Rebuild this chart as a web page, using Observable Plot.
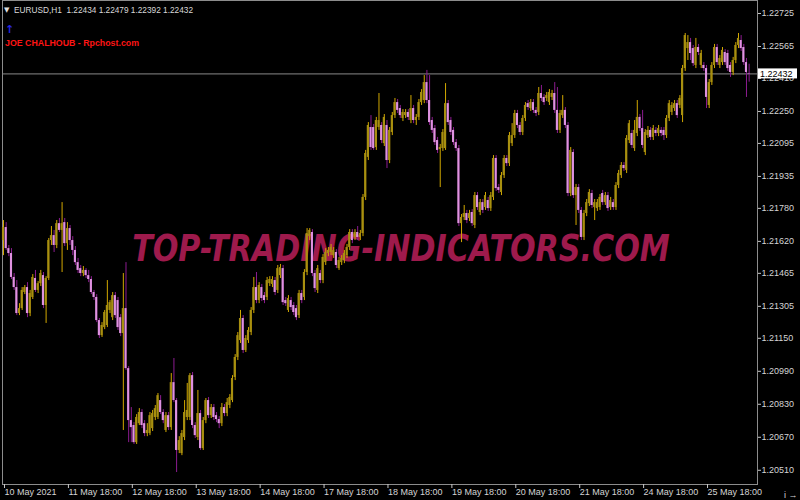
<!DOCTYPE html>
<html><head><meta charset="utf-8">
<script src="https://cdn.jsdelivr.net/npm/d3@7"></script>
<script src="https://cdn.jsdelivr.net/npm/@observablehq/plot@0.6"></script>
<style>html,body{margin:0;padding:0;background:#000;} #chart{width:800px;height:500px;overflow:hidden;}</style>
</head><body><div id="chart"></div>
<script>
const symbol = "EURUSD,H1";
const lastQuote = [1.22434, 1.22479, 1.22392, 1.22432];
const bidPrice = 1.22432;
const signature = "JOE CHALHOUB - Rpchost.com";
const watermark = "TOP-TRADING-INDICATORS.COM";
// hourly candles [open, high, low, close]
const candles = [
[1.21624,1.21721,1.21551,1.21687],[1.21687,1.21711,1.21576,1.21585],[1.21585,1.21600,1.21546,1.21561],[1.21561,1.21585,1.21435,1.21445],[1.21445,1.21464,1.21382,1.21396],[1.21396,1.21430,1.21260,1.21270],
[1.21270,1.21318,1.21260,1.21294],[1.21294,1.21396,1.21285,1.21382],[1.21372,1.21406,1.21362,1.21396],[1.21396,1.21420,1.21250,1.21270],[1.21270,1.21382,1.21255,1.21367],[1.21348,1.21459,1.21338,1.21445],
[1.21440,1.21479,1.21372,1.21382],[1.21382,1.21425,1.21367,1.21415],[1.21415,1.21479,1.21401,1.21464],[1.21454,1.21469,1.21294,1.21309],[1.21309,1.21449,1.21222,1.21440],[1.21440,1.21634,1.21430,1.21624],
[1.21624,1.21692,1.21600,1.21648],[1.21648,1.21673,1.21566,1.21600],[1.21600,1.21721,1.21585,1.21706],[1.21706,1.21731,1.21663,1.21673],[1.21673,1.21808,1.21469,1.21706],[1.21711,1.21731,1.21595,1.21609],
[1.21609,1.21711,1.21576,1.21682],[1.21682,1.21697,1.21600,1.21624],[1.21624,1.21643,1.21551,1.21576],[1.21576,1.21595,1.21503,1.21517],[1.21517,1.21537,1.21464,1.21479],[1.21488,1.21503,1.21449,1.21464],
[1.21464,1.21498,1.21449,1.21479],[1.21479,1.21488,1.21440,1.21454],[1.21454,1.21479,1.21420,1.21435],[1.21435,1.21449,1.21362,1.21372],[1.21372,1.21382,1.21333,1.21348],[1.21348,1.21362,1.21226,1.21236],
[1.21236,1.21246,1.21149,1.21163],[1.21163,1.21226,1.21154,1.21212],[1.21202,1.21285,1.21192,1.21275],[1.21212,1.21430,1.21202,1.21309],[1.21285,1.21333,1.21270,1.21323],[1.21250,1.21372,1.21236,1.21357],
[1.21357,1.21372,1.21246,1.21260],[1.21333,1.21348,1.21188,1.21202],[1.21250,1.21265,1.21158,1.21173],[1.21173,1.21464,1.20703,1.21294],[1.21294,1.21517,1.20994,1.21003],[1.21003,1.21013,1.20644,1.20751],
[1.20751,1.20814,1.20644,1.20717],[1.20727,1.20741,1.20635,1.20644],[1.20644,1.20780,1.20635,1.20766],[1.20736,1.20809,1.20727,1.20790],[1.20790,1.20804,1.20712,1.20727],[1.20736,1.20751,1.20673,1.20688],
[1.20688,1.20736,1.20673,1.20703],[1.20688,1.20790,1.20678,1.20775],[1.20712,1.20800,1.20698,1.20785],[1.20766,1.20824,1.20751,1.20809],[1.20766,1.20882,1.20756,1.20872],[1.20848,1.20872,1.20780,1.20790],
[1.20790,1.20804,1.20736,1.20751],[1.20703,1.20790,1.20693,1.20775],[1.20775,1.20790,1.20703,1.20717],[1.20717,1.20979,1.20703,1.20935],[1.20935,1.21052,1.20838,1.20848],[1.20848,1.20858,1.20499,1.20606],
[1.20606,1.20673,1.20591,1.20654],[1.20591,1.20703,1.20581,1.20688],[1.20669,1.20848,1.20654,1.20790],[1.20766,1.20931,1.20751,1.20800],[1.20766,1.20979,1.20751,1.20969],[1.20969,1.20984,1.20712,1.20727],
[1.20727,1.20741,1.20664,1.20678],[1.20669,1.20897,1.20654,1.20785],[1.20785,1.20800,1.20606,1.20615],[1.20615,1.20766,1.20606,1.20751],[1.20751,1.20858,1.20736,1.20848],[1.20848,1.20863,1.20761,1.20775],
[1.20775,1.20829,1.20761,1.20814],[1.20814,1.20829,1.20751,1.20766],[1.20775,1.20790,1.20741,1.20756],[1.20756,1.20770,1.20712,1.20736],[1.20736,1.20834,1.20722,1.20814],[1.20814,1.20829,1.20770,1.20785],
[1.20785,1.20858,1.20770,1.20838],[1.20824,1.20877,1.20809,1.20863],[1.20848,1.20969,1.20838,1.20955],[1.20960,1.21071,1.20945,1.21057],[1.21057,1.21178,1.21042,1.21163],[1.21139,1.21285,1.21125,1.21246],
[1.21246,1.21260,1.21076,1.21091],[1.21091,1.21163,1.21081,1.21149],[1.21139,1.21202,1.21125,1.21188],[1.21178,1.21299,1.21163,1.21285],[1.21285,1.21445,1.21270,1.21396],[1.21396,1.21469,1.21318,1.21333],
[1.21333,1.21420,1.21318,1.21406],[1.21396,1.21411,1.21328,1.21343],[1.21357,1.21372,1.21318,1.21333],[1.21348,1.21445,1.21333,1.21430],[1.21415,1.21449,1.21401,1.21435],[1.21411,1.21449,1.21396,1.21435],
[1.21430,1.21445,1.21357,1.21372],[1.21382,1.21503,1.21367,1.21488],[1.21454,1.21508,1.21440,1.21493],[1.21488,1.21503,1.21309,1.21323],[1.21333,1.21348,1.21304,1.21318],[1.21285,1.21357,1.21275,1.21343],
[1.21333,1.21348,1.21285,1.21299],[1.21309,1.21323,1.21260,1.21275],[1.21294,1.21309,1.21236,1.21250],[1.21260,1.21382,1.21246,1.21367],[1.21367,1.21382,1.21318,1.21333],[1.21348,1.21483,1.21333,1.21469],
[1.21469,1.21682,1.21454,1.21658],[1.21643,1.21682,1.21624,1.21673],[1.21663,1.21677,1.21449,1.21464],[1.21464,1.21479,1.21372,1.21391],[1.21382,1.21503,1.21367,1.21488],[1.21464,1.21479,1.21415,1.21430],
[1.21430,1.21556,1.21415,1.21542],[1.21517,1.21585,1.21503,1.21566],[1.21561,1.21590,1.21546,1.21576],[1.21566,1.21605,1.21551,1.21590],[1.21551,1.21590,1.21537,1.21576],[1.21566,1.21580,1.21488,1.21503],
[1.21488,1.21542,1.21479,1.21527],[1.21517,1.21551,1.21503,1.21537],[1.21527,1.21576,1.21512,1.21561],[1.21551,1.21605,1.21537,1.21590],[1.21590,1.21677,1.21576,1.21663],[1.21663,1.21677,1.21609,1.21624],
[1.21639,1.21677,1.21624,1.21663],[1.21663,1.21692,1.21624,1.21639],[1.21639,1.21673,1.21624,1.21658],[1.21658,1.21847,1.21643,1.21833],[1.21833,1.22061,1.21818,1.22046],[1.22027,1.22196,1.22012,1.22182],
[1.22172,1.22230,1.22061,1.22075],[1.22172,1.22187,1.22061,1.22070],[1.22075,1.22221,1.22061,1.22206],[1.22172,1.22337,1.22158,1.22206],[1.22182,1.22196,1.22094,1.22109],[1.22094,1.22235,1.22080,1.22221],
[1.22182,1.22206,1.21973,1.22012],[1.22012,1.22172,1.21997,1.22158],[1.22148,1.22245,1.22133,1.22230],[1.22230,1.22313,1.22216,1.22293],[1.22293,1.22308,1.22240,1.22255],[1.22264,1.22279,1.22216,1.22230],
[1.22216,1.22259,1.22201,1.22245],[1.22230,1.22259,1.22216,1.22245],[1.22245,1.22259,1.22206,1.22221],[1.22206,1.22327,1.22191,1.22264],[1.22264,1.22279,1.22191,1.22206],[1.22206,1.22235,1.22182,1.22221],
[1.22221,1.22308,1.22206,1.22293],[1.22293,1.22356,1.22279,1.22342],[1.22303,1.22424,1.22288,1.22390],[1.22390,1.22449,1.22288,1.22303],[1.22303,1.22424,1.22182,1.22196],[1.22206,1.22221,1.22143,1.22158],
[1.22167,1.22182,1.22085,1.22099],[1.22109,1.22124,1.22046,1.22061],[1.22065,1.22090,1.21881,1.22075],[1.22070,1.22162,1.22056,1.22148],[1.22070,1.22385,1.22061,1.22288],[1.22288,1.22303,1.22182,1.22196],
[1.22206,1.22221,1.22133,1.22148],[1.22158,1.22172,1.22085,1.22099],[1.22099,1.22114,1.22056,1.22070],[1.22070,1.22085,1.21692,1.21706],[1.21706,1.21750,1.21614,1.21736],[1.21736,1.21794,1.21721,1.21755],
[1.21755,1.21770,1.21706,1.21721],[1.21731,1.21770,1.21716,1.21755],[1.21760,1.21774,1.21692,1.21706],[1.21697,1.21857,1.21682,1.21842],[1.21842,1.21857,1.21770,1.21784],[1.21760,1.21823,1.21745,1.21808],
[1.21808,1.21823,1.21755,1.21770],[1.21784,1.21857,1.21770,1.21842],[1.21818,1.21833,1.21765,1.21779],[1.21779,1.21857,1.21765,1.21842],[1.21833,1.22036,1.21818,1.22022],[1.22022,1.22036,1.21862,1.21876],
[1.21881,1.21896,1.21852,1.21867],[1.21857,1.21954,1.21842,1.21939],[1.21939,1.22036,1.21925,1.22022],[1.22022,1.22036,1.21983,1.21997],[1.21997,1.22148,1.21983,1.22133],[1.22094,1.22191,1.22080,1.22133],
[1.22133,1.22255,1.22119,1.22240],[1.22240,1.22255,1.22167,1.22182],[1.22182,1.22196,1.22133,1.22148],[1.22148,1.22230,1.22133,1.22216],[1.22216,1.22293,1.22201,1.22279],[1.22288,1.22303,1.22255,1.22269],
[1.22264,1.22308,1.22250,1.22293],[1.22293,1.22308,1.22240,1.22255],[1.22255,1.22269,1.22225,1.22240],[1.22245,1.22366,1.22230,1.22337],[1.22337,1.22376,1.22298,1.22313],[1.22318,1.22332,1.22279,1.22293],
[1.22313,1.22342,1.22298,1.22327],[1.22293,1.22356,1.22279,1.22342],[1.22318,1.22352,1.22303,1.22337],[1.22337,1.22390,1.22240,1.22255],[1.22255,1.22366,1.22143,1.22158],[1.22158,1.22255,1.22143,1.22240],
[1.22230,1.22327,1.22216,1.22255],[1.22255,1.22269,1.22167,1.22182],[1.22182,1.22196,1.21837,1.21852],[1.21852,1.22075,1.21837,1.22061],[1.22051,1.22065,1.21828,1.21842],[1.21842,1.21896,1.21697,1.21881],
[1.21881,1.21896,1.21755,1.21770],[1.21770,1.21784,1.21624,1.21639],[1.21639,1.21770,1.21624,1.21755],[1.21755,1.21823,1.21740,1.21808],[1.21803,1.21871,1.21789,1.21857],[1.21852,1.21867,1.21779,1.21794],
[1.21784,1.21823,1.21721,1.21808],[1.21779,1.21823,1.21765,1.21808],[1.21784,1.21847,1.21770,1.21833],[1.21852,1.21867,1.21794,1.21808],[1.21808,1.21857,1.21794,1.21842],[1.21842,1.21857,1.21765,1.21779],
[1.21784,1.21833,1.21770,1.21818],[1.21808,1.21823,1.21770,1.21784],[1.21784,1.21905,1.21770,1.21891],[1.21891,1.21964,1.21876,1.21949],[1.21939,1.22002,1.21925,1.21988],[1.21988,1.22002,1.21959,1.21973],
[1.21964,1.22133,1.21949,1.22119],[1.22109,1.22206,1.22094,1.22191],[1.22143,1.22158,1.22070,1.22085],[1.22070,1.22206,1.22056,1.22158],[1.22143,1.22303,1.22128,1.22221],[1.22221,1.22235,1.22153,1.22167],
[1.22167,1.22255,1.22070,1.22085],[1.22051,1.22162,1.22036,1.22148],[1.22133,1.22177,1.22119,1.22158],[1.22158,1.22172,1.22109,1.22124],[1.22124,1.22182,1.22109,1.22167],[1.22158,1.22172,1.22128,1.22143],
[1.22143,1.22182,1.22128,1.22167],[1.22158,1.22172,1.22128,1.22143],[1.22158,1.22172,1.22109,1.22133],[1.22133,1.22230,1.22119,1.22216],[1.22216,1.22303,1.22201,1.22288],[1.22245,1.22293,1.22230,1.22279],
[1.22264,1.22303,1.22250,1.22288],[1.22288,1.22303,1.22216,1.22230],[1.22279,1.22327,1.22264,1.22313],[1.22230,1.22473,1.22196,1.22458],[1.22458,1.22628,1.22444,1.22618],[1.22555,1.22618,1.22497,1.22584],
[1.22584,1.22604,1.22497,1.22531],[1.22555,1.22570,1.22468,1.22482],[1.22473,1.22604,1.22458,1.22560],[1.22560,1.22575,1.22521,1.22536],[1.22473,1.22546,1.22458,1.22531],[1.22473,1.22487,1.22444,1.22458],
[1.22458,1.22473,1.22264,1.22318],[1.22279,1.22405,1.22264,1.22390],[1.22390,1.22487,1.22376,1.22473],[1.22473,1.22575,1.22458,1.22560],[1.22560,1.22575,1.22473,1.22487],[1.22473,1.22521,1.22458,1.22507],
[1.22487,1.22560,1.22473,1.22546],[1.22536,1.22550,1.22473,1.22487],[1.22531,1.22546,1.22444,1.22458],[1.22473,1.22487,1.22415,1.22439],[1.22439,1.22512,1.22424,1.22497],[1.22497,1.22584,1.22482,1.22570],
[1.22570,1.22628,1.22555,1.22604],[1.22594,1.22618,1.22541,1.22555],[1.22560,1.22575,1.22473,1.22487],[1.22487,1.22507,1.22318,1.22439],[1.22434,1.22479,1.22392,1.22432]
];
const xTickBars = [0, 24, 48, 72, 96, 120, 144, 168, 192, 216, 240, 264];
const xTickLabels = ["10 May 2021", "11 May 18:00", "12 May 18:00", "13 May 18:00", "14 May 18:00", "17 May 18:00",
  "18 May 18:00", "19 May 18:00", "20 May 18:00", "21 May 18:00", "24 May 18:00", "25 May 18:00"];
const yTickValues = [1.22725, 1.22565, 1.22410, 1.22250, 1.22095, 1.21935, 1.21780, 1.21620, 1.21465,
  1.21305, 1.21150, 1.20990, 1.20830, 1.20670, 1.20510];

const data = candles.map(([o, h, l, c], i) => ({i, o, h, l, c, up: c >= o}));
const labelOf = new Map(xTickBars.map((b, k) => [b, xTickLabels[k]]));
const FONT = "'Liberation Sans', Arial, sans-serif";

const plot = Plot.plot({
  width: 800, height: 500,
  marginLeft: 2, marginRight: 43, marginTop: 0, marginBottom: 16,
  style: {background: "#000", color: "#d4d4d4", fontFamily: FONT, fontSize: "9px"},
  color: {type: "identity"},
  x: {domain: [-0.3755, 283.14], axis: null},
  y: {domain: [1.20441, 1.22788], axis: null},
  marks: [
    Plot.frame({stroke: "#8c8c8c"}),
    Plot.ruleY([bidPrice], {stroke: "#8a8a8a", strokeWidth: 1}),
    Plot.ruleX(data, {x: "i", y1: "l", y2: "h", stroke: d => d.up ? "#d2a800" : "#8c1c90", strokeWidth: 1}),
    Plot.rect(data, {x1: d => d.i - 0.4, x2: d => d.i + 0.4, y1: "o", y2: "c",
      fill: d => d.up ? "#a89010" : "#df92e0"}),
    Plot.axisX({ticks: xTickBars, tickFormat: d => labelOf.get(d), tickSize: 4, tickPadding: 0,
      textAnchor: "start", dx: 1, stroke: "#c8c8c8", fill: "#d4d4d4"}),
    Plot.axisY({anchor: "right", ticks: yTickValues, tickFormat: d => d.toFixed(5), tickSize: 3,
      tickPadding: 1, textAnchor: "start", stroke: "#c8c8c8", fill: "#d4d4d4"})
  ]
});
document.getElementById("chart").appendChild(plot);

const svg = d3.select(plot);
// watermark behind the candles, horizontally scaled to its width in the reference
const wm = svg.insert("text", "g")
  .attr("x", 0).attr("y", 0).attr("text-anchor", "middle")
  .style("font", "italic bold 37px 'DejaVu Sans', sans-serif")
  .attr("fill", "#9e1a4c").text(watermark);
const natural = wm.node().getComputedTextLength() || 538;
wm.attr("transform", `translate(401,261) scale(${538 / natural},1)`);
// header
const ann = svg.append("g").attr("text-anchor", "start");
ann.append("text").attr("x", 4).attr("y", 12).attr("fill", "#e0e0e0")
  .style("font", "7px 'DejaVu Sans', sans-serif").text("▼");
ann.append("text").attr("x", 14).attr("y", 12.5).attr("fill", "#d8d8d8")
  .attr("textLength", 179).attr("lengthAdjust", "spacingAndGlyphs")
  .style("font", `9px ${FONT}`).style("white-space", "pre")
  .text(`${symbol}  ${lastQuote.map(v => v.toFixed(5)).join(" ")}`);
ann.append("text").attr("x", 5).attr("y", 33).attr("fill", "#2626e6")
  .style("font", "bold 11px 'DejaVu Sans', sans-serif").text("↑");
ann.append("text").attr("x", 5).attr("y", 45.5).attr("fill", "#ff1414")
  .attr("textLength", 134).attr("lengthAdjust", "spacingAndGlyphs")
  .style("font", `bold 9px ${FONT}`).text(signature);
// bid price label
const yScale = plot.scale("y");
const yb = yScale.apply(bidPrice);
ann.append("rect").attr("x", 758).attr("y", yb - 5).attr("width", 39).attr("height", 10).attr("fill", "#ffffff");
ann.append("text").attr("x", 760).attr("y", yb + 3.2).attr("fill", "#000")
  .style("font", `9px ${FONT}`).text(bidPrice.toFixed(5));
</script>
</body></html>
